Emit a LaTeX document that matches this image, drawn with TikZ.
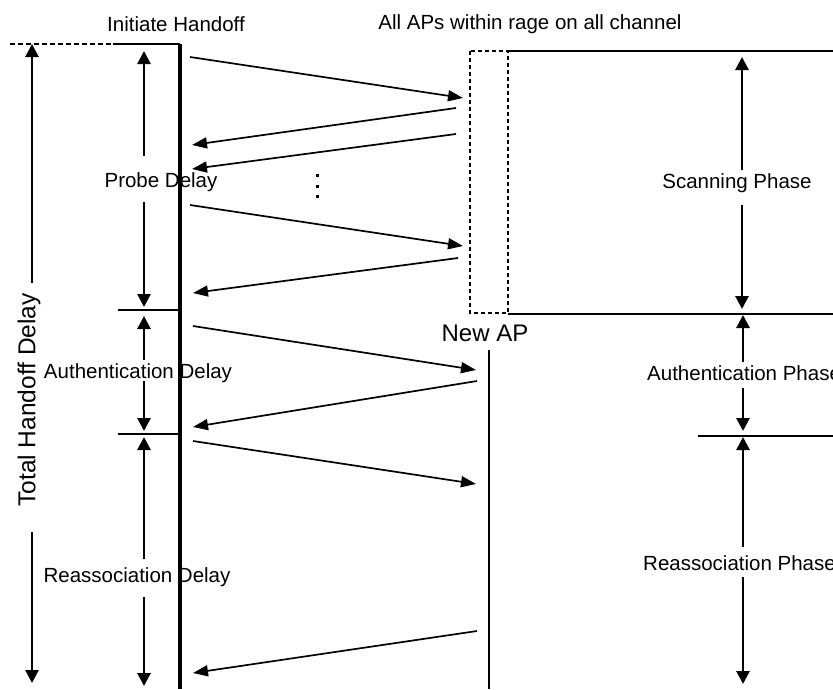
\documentclass[tikz,border=0pt]{standalone}
\usepackage{fontspec}
\setmainfont{Liberation Sans}
\usetikzlibrary{arrows.meta}
\begin{document}
\begin{tikzpicture}[x=1pt,y=-1pt,
  lbl/.style={inner sep=0pt,font=\fontsize{20.5}{24}\selectfont},
  msg/.style={line width=1.7pt,-{Triangle[length=15pt,width=11pt]}},
  span/.style={line width=2.8pt,-{Triangle[length=13pt,width=13pt]}},
  life/.style={line width=3.2pt},
  tick/.style={line width=2.4pt}]
\useasboundingbox[fill=white] (0,0) rectangle (833,689);
\clip (0,0) rectangle (833,689);
% headers
\node[lbl] (ih) at (176,24) {Initiate Handoff};
\node[lbl] (all) at (530,24) {All APs within rage on all channel};
% left lifeline and top line
\coordinate (ltop) at (180,44);
\coordinate (lbot) at (180,689);
\coordinate (dl) at (10,44);
\coordinate (dm) at (113,44);
\draw[tick,dash pattern=on 5pt off 3pt] (dl) -- (dm);
\draw[tick] (dm) -- (ltop);
% ticks
\coordinate (t1a) at (118,310); \coordinate (t1b) at (180,310);
\coordinate (t2a) at (118,434); \coordinate (t2b) at (180,434);
\draw[tick] (t1a) -- (t1b);
\draw[tick] (t2a) -- (t2b);
% total handoff delay
\node[inner sep=0pt,rotate=90,font=\fontsize{24.5}{28}\selectfont] (tot) at (29,400) {Total Handoff Delay};
\coordinate (tot1) at (32,283); \coordinate (tot1t) at (32,44);
\coordinate (tot2) at (32,532); \coordinate (tot2t) at (32,683);
\draw[span] (tot1) -- (tot1t);
\draw[span] (tot2) -- (tot2t);
% probe delay
\node[lbl] (pd) at (161,182) {Probe Delay};
\coordinate (pd1) at (144,156); \coordinate (pd1t) at (144,51);
\coordinate (pd2) at (144,202); \coordinate (pd2t) at (144,307);
\draw[span] (pd1) -- (pd1t);
\draw[span] (pd2) -- (pd2t);
% authentication delay
\node[lbl] (ad) at (138,373) {Authentication Delay};
\coordinate (ad1) at (144,360); \coordinate (ad1t) at (144,316);
\coordinate (ad2) at (144,381); \coordinate (ad2t) at (144,431);
\draw[span] (ad1) -- (ad1t);
\draw[span] (ad2) -- (ad2t);
% reassociation delay
\node[lbl] (rd) at (137,577) {Reassociation Delay};
\coordinate (rd1) at (144,559); \coordinate (rd1t) at (144,437);
\coordinate (rd2) at (144,597); \coordinate (rd2t) at (144,686);
\draw[span] (rd1) -- (rd1t);
\draw[span] (rd2) -- (rd2t);
% lifeline on top of labels
\draw[life] (ltop) -- (lbot);
% dashed box and scanning region
\coordinate (bx1) at (470,51); \coordinate (bx2) at (508,313);
\draw[line width=1.8pt,dash pattern=on 4pt off 3pt] (bx1) rectangle (bx2);
\coordinate (stl) at (508,51); \coordinate (str) at (833,51);
\coordinate (sbl) at (508,314); \coordinate (sbr) at (833,314);
\draw[tick] (stl) -- (str);
\draw[tick] (sbl) -- (sbr);
% new AP
\node[inner sep=0pt,font=\fontsize{24}{28}\selectfont] (nap) at (485,333) {New AP};
\coordinate (ntop) at (489,350); \coordinate (nbot) at (489,689);
\draw[line width=2.4pt] (ntop) -- (nbot);
% dots
\fill (315.5,173.5) rectangle (318.5,176.5);
\fill (315.5,184.5) rectangle (318.5,187.5);
\fill (315.5,194.5) rectangle (318.5,197.5);
% messages
\coordinate (m1a) at (190,57);  \coordinate (m1b) at (463,98);
\coordinate (m2a) at (456,108); \coordinate (m2b) at (192,145);
\coordinate (m3a) at (456,134); \coordinate (m3b) at (192,169);
\coordinate (m4a) at (190,205); \coordinate (m4b) at (463,246);
\coordinate (m5a) at (458,258); \coordinate (m5b) at (193,293);
\coordinate (m6a) at (193,326); \coordinate (m6b) at (476,370);
\coordinate (m7a) at (477,381); \coordinate (m7b) at (193,427);
\coordinate (m8a) at (193,441); \coordinate (m8b) at (476,484);
\coordinate (m9a) at (477,631); \coordinate (m9b) at (193,673);
\foreach \m in {1,...,9} {\draw[msg] (m\m a) -- (m\m b);}
% right phases
\node[lbl] (sp) at (737,183) {Scanning Phase};
\coordinate (sp1) at (742,170); \coordinate (sp1t) at (742,57);
\coordinate (sp2) at (742,205); \coordinate (sp2t) at (742,309);
\draw[span] (sp1) -- (sp1t);
\draw[span] (sp2) -- (sp2t);
\node[lbl,anchor=west] (ap) at (647,373) {Authentication Phase};
\coordinate (ap1) at (743,362); \coordinate (ap1t) at (743,315);
\coordinate (ap2) at (743,388); \coordinate (ap2t) at (743,431);
\draw[span] (ap1) -- (ap1t);
\draw[span] (ap2) -- (ap2t);
\coordinate (h3a) at (698,436); \coordinate (h3b) at (833,436);
\draw[tick] (h3a) -- (h3b);
\node[lbl,anchor=west] (rp) at (643,563) {Reassociation Phase};
\coordinate (rp1) at (743,547); \coordinate (rp1t) at (743,437);
\coordinate (rp2) at (743,577); \coordinate (rp2t) at (743,684);
\draw[span] (rp1) -- (rp1t);
\draw[span] (rp2) -- (rp2t);
\end{tikzpicture}
\end{document}
